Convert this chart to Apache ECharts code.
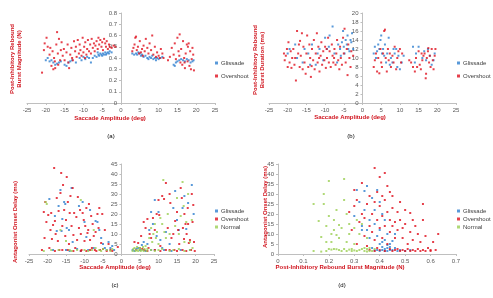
<!DOCTYPE html>
<html>
<head>
<meta charset="utf-8">
<script src="https://cdn.jsdelivr.net/npm/echarts@6/dist/echarts.min.js"></script>
<style>
  html, body { margin: 0; padding: 0; background: #fff; }
  #chart { width: 493px; height: 298px; }
</style>
</head>
<body>
<div id="chart"></div>
<script>
// series names
const seriesNames = ['Glissade', 'Overshoot', 'Normal']

// (a) saccade amplitude (deg) vs rebound burst magnitude (N)
const aGlissade = [
  [-20,0.38],[-19.5,0.40],[-19,0.37],[-18.5,0.38],[-18,0.36],[-17.5,0.34],[-17,0.35],[-16.5,0.36],[-16,0.37],[-15,0.34],
  [-14.5,0.33],[-14,0.36],[-13.5,0.37],[-13,0.38],[-12,0.36],[-11,0.40],[-10.5,0.38],[-10,0.41],[-9.5,0.39],[-9,0.41],
  [-8.5,0.40],[-8,0.36],[-7,0.42],[-6.5,0.41],[-6,0.43],[-5.8,0.42],[-5.5,0.44],[-5.2,0.43],[-5,0.42],[-4.8,0.44],
  [-4.5,0.43],[-4.2,0.45],[-4,0.43],[-3.8,0.44],[-3.5,0.45],[-3.2,0.44],[-3,0.46],[-7.5,0.40],[-6.2,0.45],[-2.5,0.45],
  [3,0.44],[3.5,0.43],[4,0.44],[4.3,0.43],[4.6,0.45],[5,0.44],[5.3,0.42],[5.6,0.43],[6,0.41],[6.5,0.42],
  [7,0.40],[7.3,0.39],[7.6,0.41],[8,0.40],[8.3,0.42],[8.6,0.39],[9,0.40],[9.3,0.38],[9.6,0.40],[10,0.39],
  [10.5,0.40],[11,0.41],[14,0.34],[14.3,0.33],[14.6,0.36],[15,0.37],[15.5,0.38],[16,0.39],[16.5,0.38],[17,0.37],
  [17.5,0.39],[18,0.38],[18.5,0.36],[19,0.37],[19.3,0.38]
]
const aOvershoot = [
  [-21,0.27],[-20.5,0.47],[-20.3,0.53],[-19.8,0.58],[-19.5,0.50],[-19,0.43],[-18.8,0.49],[-18.5,0.33],[-18.2,0.46],[-18,0.30],
  [-17.8,0.40],[-17.5,0.31],[-17.2,0.52],[-17,0.63],[-16.8,0.44],[-16.5,0.57],[-16.2,0.38],[-16,0.47],[-15.8,0.54],[-15.5,0.42],
  [-15.2,0.48],[-15,0.38],[-14.5,0.45],[-14.2,0.52],[-14,0.36],[-13.5,0.43],[-13.2,0.49],[-13,0.40],[-12.5,0.55],[-12.2,0.46],
  [-12,0.50],[-11.8,0.41],[-11.5,0.56],[-11.2,0.44],[-11,0.52],[-10.8,0.47],[-10.5,0.42],[-10.2,0.58],[-10,0.45],[-9.8,0.50],
  [-9.5,0.54],[-9.2,0.43],[-9,0.48],[-8.8,0.56],[-8.5,0.46],[-8.2,0.52],[-8,0.44],[-7.8,0.57],[-7.5,0.49],[-7.2,0.53],
  [-7,0.46],[-6.8,0.51],[-6.5,0.55],[-6.2,0.48],[-6,0.58],[-5.8,0.52],[-5.5,0.56],[-5.2,0.50],[-5,0.54],[-4.8,0.47],
  [-4.5,0.57],[-4.2,0.53],[-4,0.50],[-3.8,0.55],[-3.5,0.48],[-3.2,0.52],[-3,0.50],[-2.5,0.49],[-2,0.51],[-1.5,0.50],
  [-13.8,0.31],[-16.7,0.34],[-17.6,0.37],[-12.8,0.38],[-9.6,0.40],
  [3,0.46],[3.3,0.49],[3.6,0.52],[3.8,0.58],[4,0.59],[4.2,0.47],[4.5,0.50],[4.8,0.44],[5,0.55],[5.3,0.45],
  [5.6,0.48],[5.8,0.42],[6,0.51],[6.3,0.46],[6.6,0.57],[7,0.49],[7.3,0.44],[7.6,0.53],[8,0.47],[8.3,0.60],
  [8.6,0.43],[9,0.50],[9.3,0.41],[9.6,0.45],[10,0.42],[10.3,0.40],[10.6,0.48],[11,0.44],[11.3,0.40],[12.5,0.38],
  [13,0.41],[13.5,0.49],[14,0.43],[14.3,0.53],[14.6,0.39],[15,0.58],[15.3,0.46],[15.6,0.61],[15.8,0.36],[16,0.48],
  [16.3,0.34],[16.5,0.55],[16.8,0.40],[17,0.31],[17.2,0.44],[17.5,0.52],[17.7,0.37],[18,0.53],[18.2,0.33],[18.4,0.46],
  [18.6,0.30],[18.8,0.39],[19,0.49],[19.2,0.43],[19.4,0.29],[17.8,0.50],[16.9,0.36],[15.5,0.42]
]

// (b) saccade amplitude (deg) vs rebound burst duration (ms)
const bGlissade = [
  [-20,11],[-19.5,12],[-18,13],[-17.5,10],[-16,9],[-15.5,12],[-14.5,11],[-13.5,13],[-12.5,8.5],[-12,11],
  [-11.5,12],[-10.5,9.5],[-10,14.5],[-9.5,12],[-9,12.5],[-8.8,15],[-8,17],[-7.5,11],[-6.5,13],[-6,12],
  [-5.8,10.5],[-5.5,13.5],[-5.2,16],[-5,12.5],[-4.8,11],[-4.5,14],[-4.2,13],[-4,15],[-3.8,12],[-3.5,11.5],
  [-3.2,14],[-3,13.5],[-2.8,15.5],[-2.5,12],[-6.8,9],[-14,8.5],
  [3,11],[3.3,12.5],[3.6,10],[3.9,11.5],[4.2,13],[4.5,12],[4.8,14],[5,15],[5.2,11],[5.5,12],
  [5.8,10.5],[6,13],[6.3,9],[6.6,11],[7,14.5],[7.3,8.5],[7.6,10],[8,9],[8.3,12],[8.6,11],
  [9,12],[9.3,8],[9.6,10.5],[10,7.5],[10.5,9],[11,10.5],[13.5,12.5],[14,9],[14.3,11],[15,12.5],
  [16,10],[16.5,11.5],[17,9.5],[17.5,12],[18,10.5],[18.5,8.5],[19,9.5],[19.3,11]
]
const bOvershoot = [
  [-21,11],[-20.8,9.5],[-20.5,10.5],[-20.2,12],[-20,8],[-19.8,13.5],[-19.5,9],[-19.2,11.5],[-19,7.8],[-18.8,10],
  [-18.5,12],[-18.2,8.5],[-18,10],[-17.8,5],[-17.5,16],[-17.2,11],[-17,13],[-16.8,8],[-16.5,10.5],[-16.2,15.5],
  [-16,7.5],[-15.8,12.5],[-15.5,9],[-15.2,6.5],[-15,11],[-14.8,15],[-14.5,8],[-14.2,13],[-14,10],[-13.8,5.8],
  [-13.5,12],[-13.2,9.5],[-13,14],[-12.8,7.5],[-12.5,11],[-12.2,15.5],[-12,9],[-11.8,12.5],[-11.5,7],[-11.2,10.5],
  [-11,13.5],[-10.8,8.5],[-10.5,11.5],[-10.2,9.5],[-10,12.5],[-9.8,7.8],[-9.5,10],[-9.2,14.5],[-9,9],[-8.8,11.5],
  [-8.5,8],[-8.2,13],[-8,10.5],[-7.8,9],[-7.5,12],[-7.2,8.5],[-7,11],[-6.8,14],[-6.5,9.5],[-6.2,7.5],
  [-6,12.5],[-5.8,10],[-5.5,8.5],[-5.2,14.5],[-5,11],[-4.8,16.5],[-4.5,9],[-4.2,12],[-4,6.2],[-3.8,13],
  [-3.5,10],[-3.2,8],[-3,11.5],[-2.5,10.5],[-16.7,13.8],[-11.6,10],[-9.6,12],[-7.6,10],[-13.6,8.2],
  [3,8],[3.3,9.5],[3.6,11],[3.9,7],[4.2,10],[4.5,6.6],[4.8,12],[5,9],[5.2,8],[5.5,11],
  [5.8,16],[6,16.3],[6.2,10],[6.5,7],[6.8,12],[7,9.5],[7.3,11],[7.6,8],[8,10.5],[8.3,9],
  [8.6,12.5],[9,7.5],[9.3,10],[9.6,11.5],[10,12],[10.3,9],[10.6,11],[12.5,9.5],[13,9],[13.5,8],
  [14,7],[14.3,10],[14.6,8],[15,11.5],[15.3,8.5],[15.6,7.5],[16,9.5],[16.3,10.5],[16.6,11],[16.9,5.5],
  [17,6.5],[17.2,10],[17.5,11.5],[17.8,9],[18,10.5],[18.2,8],[18.5,12],[18.8,9.5],[19,7.5],[19.3,10.5],
  [19.5,12],[15.8,11],[17.6,12.2]
]

// (c) saccade amplitude (deg) vs antagonist onset delay (ms)
const cGlissade = [
  [-19.5,27.5],[-18,19],[-17.5,11.5],[-17,24],[-16.5,32],[-16.2,11.5],[-16,17.5],[-15.5,26],[-15.2,25],[-14.8,13],
  [-14.2,12],[-13.5,33],[-13.2,6],[-11.5,24],[-10.5,26],[-10,16],[-9.5,8.5],[-8.5,22],[-7,16.5],[-6.5,16],
  [-6,12],[-5.5,8],[-5,5],[-4.5,3],[-3.5,6],[-3,3],[-2.5,4],[-18.5,2],[-15,2],[-12,2.5],
  [-9,2],[-7.5,3],[-4,2],[-2,2],[-11,1.5],[-14,1.5],
  [3,2],[3.5,1.5],[4,2.5],[4.5,3],[5,2],[5.5,4.5],[6,2],[6.5,1.5],[7,5],[7.5,12],
  [8,21],[8.5,15],[9,27],[9.5,9],[10,21],[10.5,7],[11,3],[12,11],[13,5],[14,23],
  [14.5,31.5],[15,17],[15.5,12],[16,2],[16.5,23],[17,29],[17.5,12.5],[18,25.5],[19,34.5],[19.5,20],
  [18.5,2],[9,2],[11.5,2],[13.5,1.5],[6,6],[8,2]
]
const cOvershoot = [
  [-21.5,2],[-21,21],[-20.8,8],[-20.6,26],[-20.3,16],[-19.8,19.5],[-19.5,3],[-19.2,12],[-19,20.5],[-18.8,7.5],
  [-18.5,14.5],[-18.2,43],[-18,16.5],[-17.8,10],[-17.5,28],[-17.2,6.5],[-17,21.5],[-16.8,2],[-16.5,30.5],[-16.3,40.5],
  [-16,14],[-15.8,34.5],[-15.5,22],[-15.2,9],[-15,17],[-14.8,38.5],[-14.5,26],[-14.2,5],[-14,20.5],[-13.8,29],
  [-13.5,14],[-13.2,33],[-13,9.5],[-12.8,20.5],[-12.5,3],[-12.2,18.5],[-12,7],[-11.8,28.5],[-11.5,13],[-11.2,22],
  [-11,10],[-10.8,2],[-10.5,20.5],[-10.2,17],[-10,6.5],[-9.8,14],[-9.5,23],[-9.2,10.5],[-9,12],[-8.8,25],
  [-8.5,7],[-8.2,19],[-8,3],[-7.8,15],[-7.5,9],[-7.2,2],[-7,11],[-6.5,20],[-6.2,13],[-6,23],
  [-5.8,2],[-5.5,5.5],[-5.2,20],[-5,2.5],[-4.5,12],[-4,1.5],[-3.5,5],[-3,2],[-2.5,1.5],[-1,3.5],
  [-16,2],[-13,1.5],[-11,1.5],[-9.5,1.5],[-8.5,2],[-6.8,1.5],[-18,1.5],[-14.5,2],
  [3.5,6],[4,2],[4.5,5.5],[5,3],[5.3,9],[5.6,2.5],[6,16],[6.2,2],[6.5,13],[7,17.5],
  [7.3,3],[7.6,10],[8,8],[8.5,18],[9,12],[9.5,20],[10,27],[10.2,19.5],[10.5,4],[11,29],
  [11.5,27.5],[12,35.5],[12.5,13],[13,30],[13.2,25.5],[13.5,8],[14,10],[14.3,2],[14.5,16.5],[15,21],
  [15.3,12],[15.6,5],[16,33],[16.3,28],[16.6,13],[16.9,7.5],[17,20],[17.3,15],[17.6,10],[17.9,23],
  [18,15],[18.2,5.5],[18.5,7],[18.8,2],[19,30],[19.2,16],[19.4,24.5],[19.6,6],[19.8,1.5],[15,1.5],
  [16.5,2],[12,2],[10.5,1.5],[9,2],[7,1.5],[17.5,1.5],[13,2]
]
const cNormal = [
  [-21,1.5],[-20.5,26],[-20.2,25],[-19,2],[-17,2],[-16.5,12],[-15,6.5],[-14,2],[-12,2],[-11,27],
  [-10,2],[-9,1.5],[-8,2],[-7,3],[-6,2],[-5,2.5],[-4,2],[-3,1.5],[-2.5,2.5],[-13.5,1.5],
  [-7.5,12],[-5.5,1.5],
  [3,1.5],[3.2,2.5],[3.5,3],[3.8,1.5],[4,2],[4.2,3.5],[4.5,1.5],[4.8,2.5],[5,3],[5.2,1.5],
  [5.5,2],[5.8,3.5],[6,1.5],[6.2,2.5],[6.5,4],[6.8,1.5],[7,2.5],[7.5,8],[8,13],[8.3,6],
  [8.6,10],[9,15],[9.3,8],[9.6,11],[10,5],[10.5,18],[11,15],[11.3,37],[11.6,11],[12,8],
  [12.5,20],[13,10],[14,2],[14.5,14],[15,28],[15.5,10],[16,19],[16.5,36],[16.8,24],[17,6],
  [17.5,16],[18,30],[18.5,6],[19,17],[19.2,3],[8,2],[9,1.5],[10,2],[11,2.5],[13,1.5],
  [15.5,2.5],[17,1.5],[18.5,2]
]

// (d) rebound burst magnitude (N) vs antagonist onset delay (ms)
const dGlissade = [
  [0.30,19],[0.31,32],[0.32,26],[0.33,14],[0.34,31.5],[0.34,22],[0.35,12],[0.35,34],[0.36,17],[0.36,8],
  [0.37,28],[0.37,3],[0.38,15],[0.38,22],[0.39,32],[0.39,9],[0.40,26],[0.40,12],[0.40,5],[0.41,20],
  [0.41,2],[0.42,7],[0.42,17],[0.42,2.5],[0.43,3],[0.43,10],[0.44,2],[0.44,5],[0.45,6.5],[0.45,2],
  [0.46,3],[0.47,1.5],[0.48,2],[0.50,1.5],[0.52,2],[0.41,3.5],[0.42,1.5],[0.43,1.5],[0.39,2],[0.40,1.5],
  [0.44,3.5],[0.38,1.8],[0.41,6],[0.43,4.5],[0.46,10],[0.33,12]
]
const dOvershoot = [
  [0.28,21],[0.29,12],[0.30,32],[0.30,24],[0.31,27],[0.31,5],[0.32,16],[0.33,20],[0.33,35.5],[0.34,18],
  [0.34,9],[0.35,25],[0.35,4],[0.36,29],[0.36,14],[0.37,20],[0.37,11],[0.38,43],[0.38,26],[0.38,7],
  [0.39,31],[0.39,17],[0.40,38.5],[0.40,24],[0.40,13],[0.41,29],[0.41,19],[0.41,8],[0.42,40.5],[0.42,27],
  [0.42,14],[0.43,34],[0.43,21],[0.43,5],[0.44,31],[0.44,17],[0.44,11],[0.45,29],[0.45,23],[0.45,14],
  [0.46,16],[0.46,8],[0.47,21],[0.47,12],[0.48,26],[0.48,17],[0.49,13],[0.49,8],[0.50,22],[0.50,15],
  [0.51,5],[0.52,20.5],[0.52,11],[0.53,17],[0.53,7],[0.54,14],[0.55,10],[0.56,6],[0.57,25],[0.57,17],
  [0.58,9],[0.59,3],[0.60,2],[0.61,6],[0.63,10],
  [0.38,1.5],[0.40,2],[0.42,1.5],[0.44,2.5],[0.45,1.5],[0.46,2],[0.47,2.5],[0.48,1.5],[0.49,2],[0.50,1.5],
  [0.51,2.5],[0.52,1.5],[0.53,2],[0.54,1.5],[0.55,2.5],[0.56,1.5],[0.57,2],[0.58,1.5],[0.60,1.5],[0.62,2],
  [0.36,2],[0.39,3]
]
const dNormal = [
  [0.14,1.5],[0.14,25],[0.16,16.5],[0.17,8.5],[0.18,30],[0.18,25],[0.19,14],[0.19,1.5],[0.20,36.5],[0.20,19],
  [0.21,10],[0.21,6],[0.22,2.5],[0.22,12],[0.23,9.5],[0.23,22],[0.24,2],[0.24,14.5],[0.25,13],[0.25,1.5],
  [0.26,37.5],[0.26,27],[0.27,20],[0.27,6],[0.28,15],[0.28,10],[0.29,2.5],[0.30,13],[0.30,5],[0.31,17],
  [0.32,2],[0.32,10],[0.33,15],[0.34,1.5],[0.35,2.5],[0.35,8],[0.36,3],[0.37,1.5],[0.31,1.5],[0.33,2.5],
  [0.34,3],[0.36,1.5],[0.29,1.5],[0.27,1.5],[0.26,2.5],[0.20,2.5],[0.21,2.2],[0.23,2.4],[0.17,1.2],[0.38,2.5],
  [0.24,8],[0.22,17],[0.19,6],[0.28,2.2],[0.30,1.8],[0.35,1.2]
]

const colors = { Glissade: '#2f80d0', Overshoot: '#e0101e', Normal: '#9ccf55' }
const titleColor = '#d0141e'
const labelStyle = { fontSize: 6, color: '#595959', fontFamily: 'Liberation Sans' }
const axisLineStyle = { lineStyle: { color: '#bfbfbf', width: 1 } }

const chart = echarts.init(document.getElementById('chart'), null, { renderer: 'canvas' })

const grids = [
  { left: 27, top: 13, width: 188, height: 90 },
  { left: 269, top: 13, width: 187, height: 90 },
  { left: 29, top: 164, width: 185, height: 90 },
  { left: 278, top: 164, width: 178, height: 90 }
]

const makeX = (i, min, max, interval) => ({
  type: 'value', gridIndex: i, min, max, interval,
  axisLine: axisLineStyle,
  axisTick: { show: true, length: 2, lineStyle: { color: '#bfbfbf' } },
  axisLabel: { ...labelStyle, margin: 4 },
  splitLine: { show: false }
})
// y axis crosses the x axis at 0, so shift it by half the grid width
const makeY = (i, min, max, interval, offset) => ({
  type: 'value', gridIndex: i, min, max, interval,
  position: 'left', offset,
  axisLine: { show: true, onZero: false, ...axisLineStyle },
  axisTick: { show: true, length: 2, lineStyle: { color: '#bfbfbf' } },
  axisLabel: { ...labelStyle, margin: 4 },
  splitLine: { show: false }
})

const scatter = (name, i, data) => ({
  name, type: 'scatter', xAxisIndex: i, yAxisIndex: i, data,
  symbol: 'rect', symbolSize: 2,
  itemStyle: { color: colors[name] },
  silent: true
})

const makeLegend = (left, top, names, gap) => ({
  left, top, orient: 'vertical', data: names,
  itemWidth: 3, itemHeight: 3, itemGap: gap,
  icon: 'rect',
  textStyle: { fontSize: 6, color: '#404040', fontFamily: 'Liberation Sans', padding: [0, 0, 0, -2] },
  selectedMode: false
})

const textEl = (text, x, y, opts = {}) => ({
  type: 'text', x, y, rotation: opts.rotate ? Math.PI / 2 : 0,
  style: {
    text, fill: opts.fill || titleColor,
    font: (opts.bold === false ? '' : 'bold ') + (opts.size || 6) + 'px Liberation Sans',
    textAlign: 'center', textVerticalAlign: 'middle', lineHeight: 7
  }
})

chart.setOption({
  animation: false,
  grid: grids,
  xAxis: [makeX(0, -25, 25, 5), makeX(1, -25, 25, 5), makeX(2, -25, 25, 5), makeX(3, 0, 0.7, 0.1)],
  yAxis: [
    makeY(0, 0, 0.8, 0.1, -94),
    makeY(1, 0, 20, 2, -93.5),
    makeY(2, 0, 45, 5, -92.5),
    makeY(3, 0, 45, 5, 0)
  ],
  legend: [
    makeLegend(210, 55, seriesNames.slice(0, 2), 7),
    makeLegend(452, 55, seriesNames.slice(0, 2), 7),
    makeLegend(210, 203, seriesNames, 2),
    makeLegend(452, 203, seriesNames, 2)
  ],
  series: [
    scatter('Glissade', 0, aGlissade),
    scatter('Overshoot', 0, aOvershoot),
    scatter('Glissade', 1, bGlissade),
    scatter('Overshoot', 1, bOvershoot),
    scatter('Glissade', 2, cGlissade),
    scatter('Overshoot', 2, cOvershoot),
    scatter('Normal', 2, cNormal),
    scatter('Glissade', 3, dGlissade),
    scatter('Overshoot', 3, dOvershoot),
    scatter('Normal', 3, dNormal)
  ],
  graphic: [
    textEl('Post-Inhibitory Rebound\nBurst Magnitude (N)', 16, 59, { rotate: true }),
    textEl('Saccade Amplitude (deg)', 110, 118),
    textEl('(a)', 111, 136, { fill: '#000', bold: false }),
    textEl('Post-Inhibitory Rebound\nBurst Duration (ms)', 259, 60, { rotate: true }),
    textEl('Saccade Amplitude (deg)', 350, 117),
    textEl('(b)', 351, 136, { fill: '#000', bold: false }),
    textEl('Antagonist Onset Delay (ms)', 15, 222, { rotate: true }),
    textEl('Saccade Amplitude (deg)', 115, 267),
    textEl('(c)', 115, 285, { fill: '#000', bold: false }),
    textEl('Antagonist Onset Delay (ms)', 265, 207, { rotate: true }),
    textEl('Post-Inhibitory Rebound Burst Magnitude (N)', 340, 267),
    textEl('(d)', 342, 285, { fill: '#000', bold: false })
  ]
})
</script>
</body>
</html>
